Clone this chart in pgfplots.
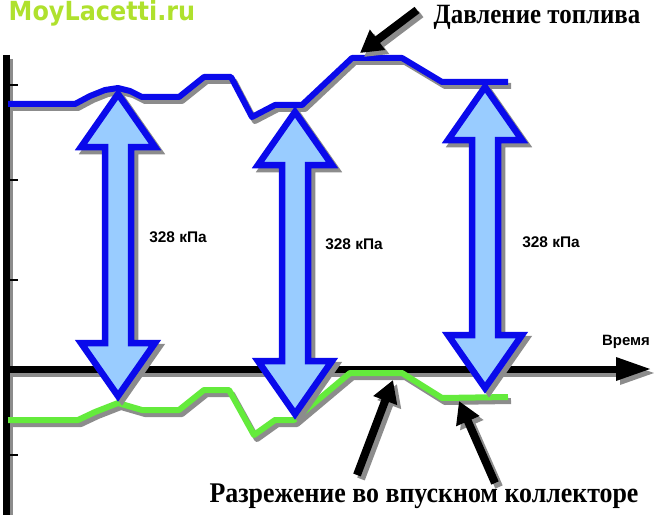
\documentclass[border=0pt]{standalone}
\usepackage{pgfplots}
\pgfplotsset{compat=1.18}
\usepackage{pgfplotstable}
\usepackage{fontspec}
\setmainfont{Liberation Serif}
\newfontfamily\arial{Liberation Sans}
\newfontfamily\dejavu{DejaVu Sans}
\usetikzlibrary{arrows.meta}

\definecolor{lineblue}{RGB}{10,10,235}
\definecolor{fillblue}{RGB}{153,204,255}
\definecolor{linegreen}{RGB}{100,235,60}
\definecolor{shadowgray}{RGB}{140,140,140}
\definecolor{wmgreen}{RGB}{175,225,45}

% fuel pressure line (image pixel coordinates, y downward)
\pgfplotstableread{
x y
8 104
75 104
90 96
105 90
118 88
130 91
142 97
179 97
204 77
231 77
252 117
275 105
302 105
352 58
402 58
442 82
508 82
}\fuel

% manifold vacuum line
\pgfplotstableread{
x y
8 420
78 420
95 412
118 403
142 410
179 410
204 390
229 390
254 435
275 420
294 420
350 373
402 373
442 398
508 397
}\vacuum

\pgfplotstableread{
x y
118 94
155 147
131 147
131 343
155 343
118 396
81 343
105 343
105 147
81 147
118 94
}\arrowA

\pgfplotstableread{
x y
295 112
332 165
308 165
308 361
332 361
295 414
258 361
282 361
282 165
258 165
295 112
}\arrowB

\pgfplotstableread{
x y
485 87
522 140
498 140
498 335
522 335
485 388
448 335
472 335
472 140
448 140
485 87
}\arrowC

\begin{document}
\begin{tikzpicture}
\begin{axis}[scale only axis, width=654bp, height=515bp,
  xmin=0, xmax=654, ymin=0, ymax=515, y dir=reverse,
  axis lines=none, clip=false]

% axes shadows
\addplot[shadowgray, line width=6bp, xshift=4bp, yshift=-4bp] coordinates {(6,55) (6,515)};
\addplot[shadowgray, line width=7bp, xshift=4bp, yshift=-4bp] coordinates {(3,369) (620,369)};
\addplot[shadowgray, fill=shadowgray, draw=none, xshift=4bp, yshift=-4bp] coordinates {(616,357) (650,369) (616,381)} -- cycle;
% axes
\addplot[black, line width=7bp] coordinates {(6,55) (6,515)};
\addplot[black, line width=7bp] coordinates {(3,369) (620,369)};
\addplot[fill=black, draw=none] coordinates {(616,357) (650,369) (616,381)} -- cycle;
% ticks
\addplot[black, line width=2.5bp] coordinates {(8,85) (18,85)};
\addplot[black, line width=2.5bp] coordinates {(8,180) (18,180)};
\addplot[black, line width=2.5bp] coordinates {(8,280) (18,280)};
\addplot[black, line width=2.5bp] coordinates {(8,455) (18,455)};

% lines with shadows
\addplot[shadowgray, line width=6bp, line join=round, xshift=3bp, yshift=-4bp] table {\fuel};
\addplot[lineblue, line width=6bp, line join=round] table {\fuel};
\addplot[shadowgray, line width=6bp, line join=round, xshift=3bp, yshift=-4bp] table {\vacuum};
\addplot[linegreen, line width=6bp, line join=round] table {\vacuum};

% double arrows
\addplot[fill=shadowgray, draw=shadowgray, line width=6.5bp, line join=miter, xshift=4bp, yshift=-4bp] table {\arrowA} -- cycle;
\addplot[fill=fillblue, draw=lineblue, line width=6.5bp, line join=miter] table {\arrowA} -- cycle;
\addplot[fill=shadowgray, draw=shadowgray, line width=6.5bp, line join=miter, xshift=4bp, yshift=-4bp] table {\arrowB} -- cycle;
\addplot[fill=fillblue, draw=lineblue, line width=6.5bp, line join=miter] table {\arrowB} -- cycle;
\addplot[fill=shadowgray, draw=shadowgray, line width=6.5bp, line join=miter, xshift=4bp, yshift=-4bp] table {\arrowC} -- cycle;
\addplot[fill=fillblue, draw=lineblue, line width=6.5bp, line join=miter] table {\arrowC} -- cycle;

% black pointer arrows
\addplot[shadowgray, line width=8bp, -{Triangle[length=22bp,width=24bp]}, xshift=4bp, yshift=-4bp] coordinates {(417,10) (360,53)};
\addplot[black, line width=8bp, -{Triangle[length=22bp,width=24bp]}] coordinates {(417,10) (360,53)};
\addplot[shadowgray, line width=8bp, -{Triangle[length=22bp,width=24bp]}, xshift=4bp, yshift=-4bp] coordinates {(357,475) (393,380)};
\addplot[black, line width=8bp, -{Triangle[length=22bp,width=24bp]}] coordinates {(357,475) (393,380)};
\addplot[shadowgray, line width=8bp, -{Triangle[length=22bp,width=24bp]}, xshift=4bp, yshift=-4bp] coordinates {(495,483) (459,401)};
\addplot[black, line width=8bp, -{Triangle[length=22bp,width=24bp]}] coordinates {(495,483) (459,401)};

% texts
\node[text=wmgreen, font=\dejavu\bfseries\fontsize{24}{28}\selectfont, inner sep=0pt, yscale=1.1] at (axis cs:102,13) {MoyLacetti.ru};
\node[font=\bfseries\fontsize{25}{30}\selectfont, inner sep=0pt, yscale=1.12] at (axis cs:537,17) {Давление топлива};
\node[font=\bfseries\fontsize{26}{30}\selectfont, inner sep=0pt, yscale=1.1] at (axis cs:424,496) {Разрежение во впускном коллекторе};
\node[font=\arial\bfseries\fontsize{15}{18}\selectfont, inner sep=0pt] at (axis cs:626,342) {Время};
\node[font=\arial\bfseries\fontsize{15.5}{18}\selectfont, inner sep=0pt] at (axis cs:178,237) {328 кПа};
\node[font=\arial\bfseries\fontsize{15.5}{18}\selectfont, inner sep=0pt] at (axis cs:354,244) {328 кПа};
\node[font=\arial\bfseries\fontsize{15.5}{18}\selectfont, inner sep=0pt] at (axis cs:551,242) {328 кПа};
\end{axis}
\pgfresetboundingbox
\path (0,0) rectangle (654bp,515bp);
\end{tikzpicture}
\end{document}
